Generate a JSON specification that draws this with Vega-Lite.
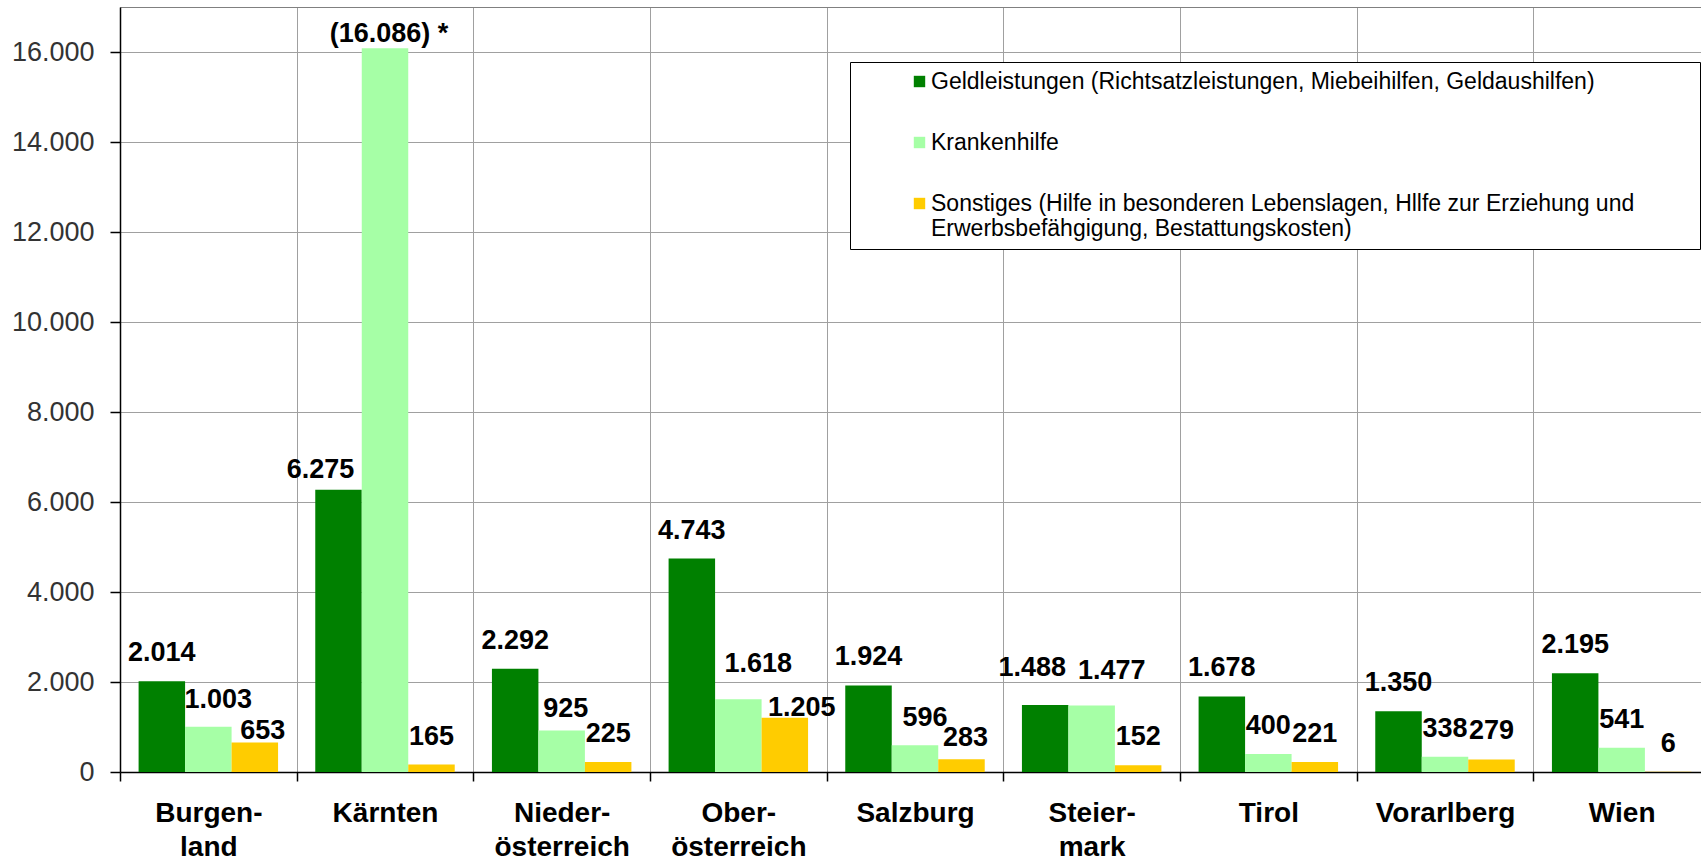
{
  "$schema": "https://vega.github.io/schema/vega-lite/v6.json",
  "width": 1581,
  "height": 765,
  "autosize": {"type": "none"},
  "padding": {"left": 120, "top": 7, "right": 0, "bottom": 93},
  "background": "white",
  "config": {
    "font": "Liberation Sans",
    "locale": {"number": {"decimal": ",", "thousands": ".", "grouping": [3], "currency": ["", " €"]}},
    "view": {"stroke": null},
    "text": {"baseline": "alphabetic", "fontSize": 27, "fontWeight": "bold", "color": "black"}
  },
  "data": {
    "values": [
      {"Bundesland": "Burgenland", "Art": "Geldleistungen (Richtsatzleistungen, Miebeihilfen, Geldaushilfen)", "Wert": 2014},
      {"Bundesland": "Burgenland", "Art": "Krankenhilfe", "Wert": 1003},
      {"Bundesland": "Burgenland", "Art": "Sonstiges (Hilfe in besonderen Lebenslagen, Hllfe zur Erziehung und Erwerbsbefähgigung, Bestattungskosten)", "Wert": 653},
      {"Bundesland": "Kärnten", "Art": "Geldleistungen (Richtsatzleistungen, Miebeihilfen, Geldaushilfen)", "Wert": 6275},
      {"Bundesland": "Kärnten", "Art": "Krankenhilfe", "Wert": 16086},
      {"Bundesland": "Kärnten", "Art": "Sonstiges (Hilfe in besonderen Lebenslagen, Hllfe zur Erziehung und Erwerbsbefähgigung, Bestattungskosten)", "Wert": 165},
      {"Bundesland": "Niederösterreich", "Art": "Geldleistungen (Richtsatzleistungen, Miebeihilfen, Geldaushilfen)", "Wert": 2292},
      {"Bundesland": "Niederösterreich", "Art": "Krankenhilfe", "Wert": 925},
      {"Bundesland": "Niederösterreich", "Art": "Sonstiges (Hilfe in besonderen Lebenslagen, Hllfe zur Erziehung und Erwerbsbefähgigung, Bestattungskosten)", "Wert": 225},
      {"Bundesland": "Oberösterreich", "Art": "Geldleistungen (Richtsatzleistungen, Miebeihilfen, Geldaushilfen)", "Wert": 4743},
      {"Bundesland": "Oberösterreich", "Art": "Krankenhilfe", "Wert": 1618},
      {"Bundesland": "Oberösterreich", "Art": "Sonstiges (Hilfe in besonderen Lebenslagen, Hllfe zur Erziehung und Erwerbsbefähgigung, Bestattungskosten)", "Wert": 1205},
      {"Bundesland": "Salzburg", "Art": "Geldleistungen (Richtsatzleistungen, Miebeihilfen, Geldaushilfen)", "Wert": 1924},
      {"Bundesland": "Salzburg", "Art": "Krankenhilfe", "Wert": 596},
      {"Bundesland": "Salzburg", "Art": "Sonstiges (Hilfe in besonderen Lebenslagen, Hllfe zur Erziehung und Erwerbsbefähgigung, Bestattungskosten)", "Wert": 283},
      {"Bundesland": "Steiermark", "Art": "Geldleistungen (Richtsatzleistungen, Miebeihilfen, Geldaushilfen)", "Wert": 1488},
      {"Bundesland": "Steiermark", "Art": "Krankenhilfe", "Wert": 1477},
      {"Bundesland": "Steiermark", "Art": "Sonstiges (Hilfe in besonderen Lebenslagen, Hllfe zur Erziehung und Erwerbsbefähgigung, Bestattungskosten)", "Wert": 152},
      {"Bundesland": "Tirol", "Art": "Geldleistungen (Richtsatzleistungen, Miebeihilfen, Geldaushilfen)", "Wert": 1678},
      {"Bundesland": "Tirol", "Art": "Krankenhilfe", "Wert": 400},
      {"Bundesland": "Tirol", "Art": "Sonstiges (Hilfe in besonderen Lebenslagen, Hllfe zur Erziehung und Erwerbsbefähgigung, Bestattungskosten)", "Wert": 221},
      {"Bundesland": "Vorarlberg", "Art": "Geldleistungen (Richtsatzleistungen, Miebeihilfen, Geldaushilfen)", "Wert": 1350},
      {"Bundesland": "Vorarlberg", "Art": "Krankenhilfe", "Wert": 338},
      {"Bundesland": "Vorarlberg", "Art": "Sonstiges (Hilfe in besonderen Lebenslagen, Hllfe zur Erziehung und Erwerbsbefähgigung, Bestattungskosten)", "Wert": 279},
      {"Bundesland": "Wien", "Art": "Geldleistungen (Richtsatzleistungen, Miebeihilfen, Geldaushilfen)", "Wert": 2195},
      {"Bundesland": "Wien", "Art": "Krankenhilfe", "Wert": 541},
      {"Bundesland": "Wien", "Art": "Sonstiges (Hilfe in besonderen Lebenslagen, Hllfe zur Erziehung und Erwerbsbefähgigung, Bestattungskosten)", "Wert": 6}
    ]
  },
  "transform": [
    {"calculate": "datum.Bundesland + '/' + (indexof(datum.Art, 'Geld') == 0 ? 'G' : indexof(datum.Art, 'Kranken') == 0 ? 'K' : 'S')", "as": "Kennung"}
  ],
  "encoding": {
    "x": {
      "field": "Bundesland", "type": "nominal", "sort": null,
      "scale": {"range": [0, 1590], "paddingInner": 0, "paddingOuter": 0},
      "axis": {
        "title": null, "labelAngle": 0, "tickBand": "extent", "grid": true,
        "gridColor": "#a0a0a0", "gridWidth": 1,
        "domainColor": "black", "domainWidth": 1.5, "tickColor": "black", "tickSize": 9, "tickWidth": 1.5,
        "labelFontSize": 28, "labelFontWeight": "bold", "labelColor": "black",
        "labelPadding": 18, "labelLineHeight": 34,
        "labelExpr": "datum.value == 'Burgenland' ? ['Burgen-', 'land'] : datum.value == 'Niederösterreich' ? ['Nieder-', 'österreich'] : datum.value == 'Oberösterreich' ? ['Ober-', 'österreich'] : datum.value == 'Steiermark' ? ['Steier-', 'mark'] : datum.value"
      }
    },
    "xOffset": {
      "field": "Art", "type": "nominal",
      "sort": ["Geldleistungen (Richtsatzleistungen, Miebeihilfen, Geldaushilfen)", "Krankenhilfe", "Sonstiges (Hilfe in besonderen Lebenslagen, Hllfe zur Erziehung und Erwerbsbefähgigung, Bestattungskosten)"],
      "scale": {"paddingInner": 0, "paddingOuter": 0.4}
    },
    "y": {
      "field": "Wert", "type": "quantitative",
      "scale": {"domain": [0, 17000], "nice": false},
      "axis": {
        "title": null, "values": [0, 2000, 4000, 6000, 8000, 10000, 12000, 14000, 16000, 17000],
        "format": ",d", "labelExpr": "datum.value >= 17000 ? '' : datum.label",
        "grid": true, "gridWidth": 1,
        "gridColor": {"condition": {"test": "datum.value >= 17000", "value": "#808080"}, "value": "#a0a0a0"},
        "tickOpacity": {"condition": {"test": "datum.value >= 17000", "value": 0}, "value": 1},
        "domainColor": "black", "domainWidth": 1.5, "tickColor": "black", "tickSize": 10, "tickWidth": 1.5,
        "labelFontSize": 27, "labelColor": "#333333", "labelPadding": 16
      }
    }
  },
  "layer": [
    {
      "mark": {"type": "bar"},
      "encoding": {
        "color": {
          "field": "Art", "type": "nominal",
          "scale": {
            "domain": ["Geldleistungen (Richtsatzleistungen, Miebeihilfen, Geldaushilfen)", "Krankenhilfe", "Sonstiges (Hilfe in besonderen Lebenslagen, Hllfe zur Erziehung und Erwerbsbefähgigung, Bestattungskosten)"],
            "range": ["#008000", "#a6ffa6", "#ffcc00"]
          },
          "legend": {
            "orient": "none", "legendX": 730, "legendY": 55,
            "title": " ", "titleOrient": "right", "titlePadding": 58,
            "direction": "vertical", "symbolType": "square", "symbolSize": 130, "symbolStrokeWidth": 0,
            "symbolOffset": 50, "labelFontSize": 23, "labelColor": "black", "labelOffset": 0, "labelLimit": 1000,
            "labelLineHeight": 30, "rowPadding": 37, "padding": 8,
            "strokeColor": "black", "fillColor": "white",
            "labelExpr": "indexof(datum.label, 'Sonstiges') == 0 ? ['Sonstiges (Hilfe in besonderen Lebenslagen, Hllfe zur Erziehung und', 'Erwerbsbefähgigung, Bestattungskosten)'] : datum.label"
          }
        }
      }
    },
    {
      "transform": [{"filter": "indexof(['Kärnten/K', 'Kärnten/G', 'Burgenland/S', 'Oberösterreich/S', 'Oberösterreich/K', 'Steiermark/K', 'Steiermark/G', 'Burgenland/K', 'Salzburg/K', 'Niederösterreich/K', 'Salzburg/S'], datum.Kennung) < 0"}],
      "mark": {"type": "text", "dy": -20},
      "encoding": {"text": {"field": "Wert", "type": "quantitative", "format": ",d"}}
    },
    {
      "transform": [
        {"filter": "datum.Kennung == 'Kärnten/K'"},
        {"calculate": "'(' + format(datum.Wert, ',d') + ') *'", "as": "Beschriftung"}
      ],
      "mark": {"type": "text", "dy": -6, "dx": 4},
      "encoding": {"text": {"field": "Beschriftung", "type": "nominal"}}
    },
    {
      "transform": [{"filter": "datum.Kennung == 'Kärnten/G'"}],
      "mark": {"type": "text", "dy": -12, "dx": -18},
      "encoding": {"text": {"field": "Wert", "type": "quantitative", "format": ",d"}}
    },
    {
      "transform": [{"filter": "datum.Kennung == 'Burgenland/S'"}],
      "mark": {"type": "text", "dy": -4, "dx": 8},
      "encoding": {"text": {"field": "Wert", "type": "quantitative", "format": ",d"}}
    },
    {
      "transform": [{"filter": "datum.Kennung == 'Oberösterreich/S'"}],
      "mark": {"type": "text", "dy": -2, "dx": 17},
      "encoding": {"text": {"field": "Wert", "type": "quantitative", "format": ",d"}}
    },
    {
      "transform": [{"filter": "datum.Kennung == 'Oberösterreich/K' || datum.Kennung == 'Steiermark/K'"}],
      "mark": {"type": "text", "dy": -27, "dx": 20},
      "encoding": {"text": {"field": "Wert", "type": "quantitative", "format": ",d"}}
    },
    {
      "transform": [{"filter": "datum.Kennung == 'Steiermark/G'"}],
      "mark": {"type": "text", "dy": -29, "dx": -13},
      "encoding": {"text": {"field": "Wert", "type": "quantitative", "format": ",d"}}
    },
    {
      "transform": [{"filter": "datum.Kennung == 'Burgenland/K' || datum.Kennung == 'Salzburg/K'"}],
      "mark": {"type": "text", "dy": -19, "dx": 10},
      "encoding": {"text": {"field": "Wert", "type": "quantitative", "format": ",d"}}
    },
    {
      "transform": [{"filter": "datum.Kennung == 'Niederösterreich/K' || datum.Kennung == 'Salzburg/S'"}],
      "mark": {"type": "text", "dy": -13, "dx": 4},
      "encoding": {"text": {"field": "Wert", "type": "quantitative", "format": ",d"}}
    }
  ]
}
